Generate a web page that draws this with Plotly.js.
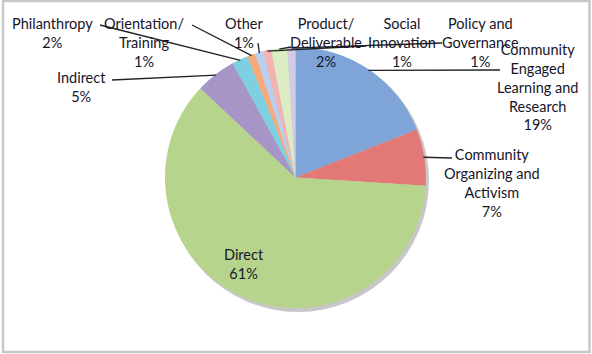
<!DOCTYPE html>
<html><head><meta charset="utf-8">
<script src="https://cdn.plot.ly/plotly-3.0.1.min.js"></script>
<style>html,body{margin:0;padding:0;background:#fff}#chart{width:592px;height:354px}</style>
</head><body><div id="chart"></div>
<script>
// ---- data ----
const categories = ["Community Engaged Learning and Research","Community Organizing and Activism","Direct","Indirect","Philanthropy","Orientation/ Training","Other","Social Innovation","Product/ Deliverable","Policy and Governance"];
const shares = [19, 7, 61, 5, 2, 1, 1, 1, 2, 1];
const labelText = ["Community<br>Engaged<br>Learning and<br>Research","Community<br>Organizing and<br>Activism","Direct","Indirect","Philanthropy","Orientation/<br>Training","Other","Social<br>Innovation","Product/<br>Deliverable","Policy and<br>Governance"];

// ---- styles / layout ----
const colors = ["#7ea4d8","#e27976","#b7d48c","#a695c6","#7dcfe2","#f7a978","#b9cff0","#f2b3b2","#dcedc4","#d3cbe6"];
const W = 592, H = 354, CX = 295.5, CY = 177.5, R = 130.5;
// label block centres (px) and leader start points (px); null = no leader
const labelPos = [[537,87.5],[492,183],[244,264],[81,87.5],[52,33],[144,42.5],[244,32.5],[402,42.5],[326,42.5],[480,42.5]];
const leaderStart = [[500,70],[452,158],null,[112,80],[100,25],[192,25],[258,43],[366,46],[291,47],[442,43]];

const px = x => x / W, py = y => 1 - y / H;
const total = shares.reduce((a,b)=>a+b,0);
let cum = 0;
const annotations = [], shapes = [];
shapes.push({type:'circle', layer:'below', xref:'paper', yref:'paper',
  x0:px(CX-R+2), x1:px(CX+R+3), y0:py(CY+R+4), y1:py(CY-R+2),
  fillcolor:'rgba(0,0,0,0.22)', line:{width:0}});
shares.forEach((v,i)=>{
  const mid = (cum + v/2) / total; cum += v;
  const th = mid * 2 * Math.PI;
  const ex = CX + (R-1) * Math.sin(th), ey = CY - (R-1) * Math.cos(th);
  const pct = Math.round(v / total * 100) + '%';
  annotations.push({xref:'paper', yref:'paper', x:px(labelPos[i][0]), y:py(labelPos[i][1]),
    xanchor:'center', yanchor:'middle', showarrow:false, align:'center',
    text: labelText[i] + '<br>' + pct});
  if (leaderStart[i]) {
    shapes.push({type:'line', xref:'paper', yref:'paper', layer:'above',
      x0:px(leaderStart[i][0]), y0:py(leaderStart[i][1]), x1:px(ex), y1:py(ey),
      line:{color:'#222', width:1.3}});
  }
});
shapes.push({type:'rect', xref:'paper', yref:'paper', x0:px(3), x1:px(589.5), y0:py(352), y1:py(1),
  line:{color:'#c8c8c8', width:2.5}, fillcolor:'rgba(0,0,0,0)'});

const trace = {type:'pie', labels:categories, values:shares, sort:false, direction:'clockwise', rotation:0,
  marker:{colors:colors, line:{width:0}}, textinfo:'none', hoverinfo:'label+percent',
  domain:{x:[px(CX-R), px(CX+R)], y:[py(CY+R), py(CY-R)]}};
const layout = {width:W, height:H, margin:{l:0,r:0,t:0,b:0}, showlegend:false,
  paper_bgcolor:'#fff', font:{family:'Lato, "Open Sans", sans-serif', size:14.5, color:'#15152a'},
  annotations:annotations, shapes:shapes};
Plotly.newPlot('chart',[trace],layout,{displayModeBar:false, staticPlot:true});
</script></body></html>
